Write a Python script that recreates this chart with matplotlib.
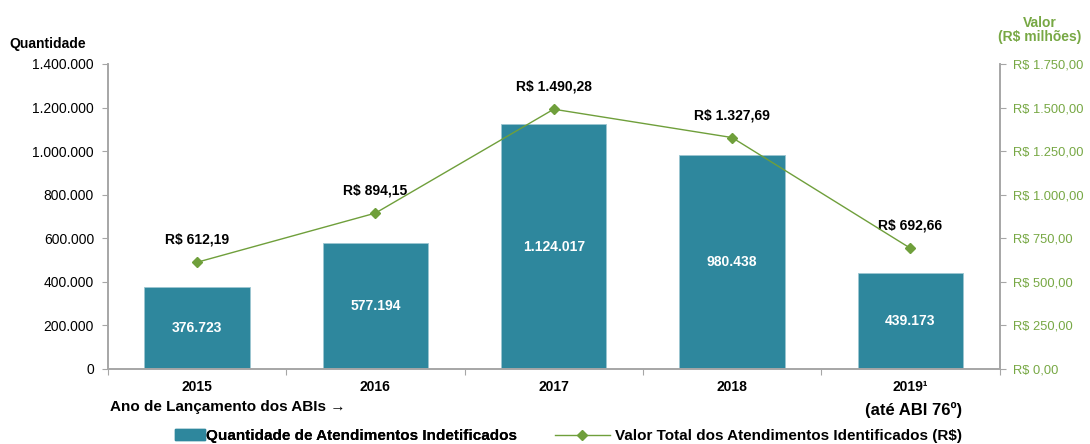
import matplotlib.pyplot as plt
from matplotlib.lines import Line2D
from matplotlib.patches import Patch

anos = ["2015", "2016", "2017", "2018", "2019\u00b9"]
quantidade = [376723, 577194, 1124017, 980438, 439173]
valor = [612.19, 894.15, 1490.28, 1327.69, 692.66]


def fmt_br(v, dec=0):
    s = f"{v:,.{dec}f}"
    return s.replace(",", "X").replace(".", ",").replace("X", ".")


def main():
    plt.rcParams["font.family"] = ["Liberation Sans", "DejaVu Sans"]
    bar_color = "#2E879D"
    green = "#6F9F3B"
    green_txt = "#77A844"
    gray = "#A6A6A6"

    fig = plt.figure(figsize=(10.9, 4.44), dpi=100)
    ax = fig.add_axes([0.099, 0.169, 0.818, 0.687])
    ax2 = ax.twinx()

    x = list(range(len(anos)))
    ax.bar(x, quantidade, width=0.59, color=bar_color, edgecolor="#9CC6D1", linewidth=0.6, zorder=2)
    for xi, q in zip(x, quantidade):
        ax.text(xi, q / 2, fmt_br(q), color="white", ha="center", va="center",
                fontsize=10, fontweight="bold", zorder=3)

    ax.set_xlim(-0.5, len(anos) - 0.5)
    ax.set_ylim(0, 1400000)
    ax.set_yticks(range(0, 1400001, 200000))
    ax.set_yticklabels([fmt_br(v) for v in range(0, 1400001, 200000)], fontsize=10)
    ax.set_xticks([i - 0.5 for i in range(len(anos) + 1)])
    ax.set_xticklabels([])
    ax.set_xticks(x, minor=True)
    ax.set_xticklabels(anos, minor=True, fontsize=10, fontweight="bold")
    ax.tick_params(axis="x", which="minor", length=0, pad=8)
    ax.tick_params(axis="x", which="major", length=4, color=gray)
    ax.tick_params(axis="y", length=4, color=gray, pad=6)

    ax2.plot(x, valor, color=green, linewidth=1, marker="D", markersize=5.5, zorder=4)
    for xi, v in zip(x, valor):
        ax2.annotate(f"R$ {fmt_br(v, 2)}", (xi, v), xytext=(0, 11), textcoords="offset points",
                     ha="center", va="bottom", fontsize=10, fontweight="bold")
    ax2.set_ylim(0, 1750)
    ticks2 = list(range(0, 1751, 250))
    ax2.set_yticks(ticks2)
    ax2.set_yticklabels([f"R$ {fmt_br(t, 2)}" for t in ticks2], fontsize=9.3, color=green_txt)
    ax2.tick_params(axis="y", length=4, color=gray, pad=6)

    for a in (ax, ax2):
        a.spines["top"].set_visible(False)
        for s in ("left", "right", "bottom"):
            a.spines[s].set_color(gray)
            a.spines[s].set_linewidth(1.2)
    ax.set_zorder(ax2.get_zorder() - 1)
    ax.patch.set_visible(True)
    ax2.patch.set_visible(False)

    fig.text(0.009, 0.9, "Quantidade", fontsize=10, fontweight="bold", va="center")
    fig.text(0.954, 0.932, "Valor\n(R$ milh\u00f5es)", fontsize=10, fontweight="bold",
             color=green_txt, ha="center", va="center", linespacing=0.95)
    fig.text(0.101, 0.083, "Ano de Lan\u00e7amento dos ABIs \u2192", fontsize=11, fontweight="bold",
             va="center")
    fig.text(0.838, 0.077, "(at\u00e9 ABI 76\u00ba)", fontsize=12, fontweight="bold",
             ha="center", va="center")

    leg_y = 1 - 436 / 444
    leg_font = {"size": 11, "weight": "bold"}
    leg1 = fig.legend([Patch(facecolor=bar_color, edgecolor=bar_color)],
                      ["Quantidade de Atendimentos Indetificados"],
                      loc="center left", bbox_to_anchor=(175 / 1090, leg_y), frameon=False,
                      borderpad=0, borderaxespad=0, handlelength=1.96, handletextpad=0.05,
                      prop=leg_font)
    fig.add_artist(leg1)
    fig.legend([Line2D([0], [0], color=green, marker="D", markersize=5.5, linewidth=1)],
               ["Valor Total dos Atendimentos Identificados (R$)"],
               loc="center left", bbox_to_anchor=(555 / 1090, leg_y), frameon=False,
               borderpad=0, borderaxespad=0, handlelength=3.6, handletextpad=0.3,
               prop=leg_font)

    fig.savefig("out.png", dpi=100)


if __name__ == "__main__":
    main()
